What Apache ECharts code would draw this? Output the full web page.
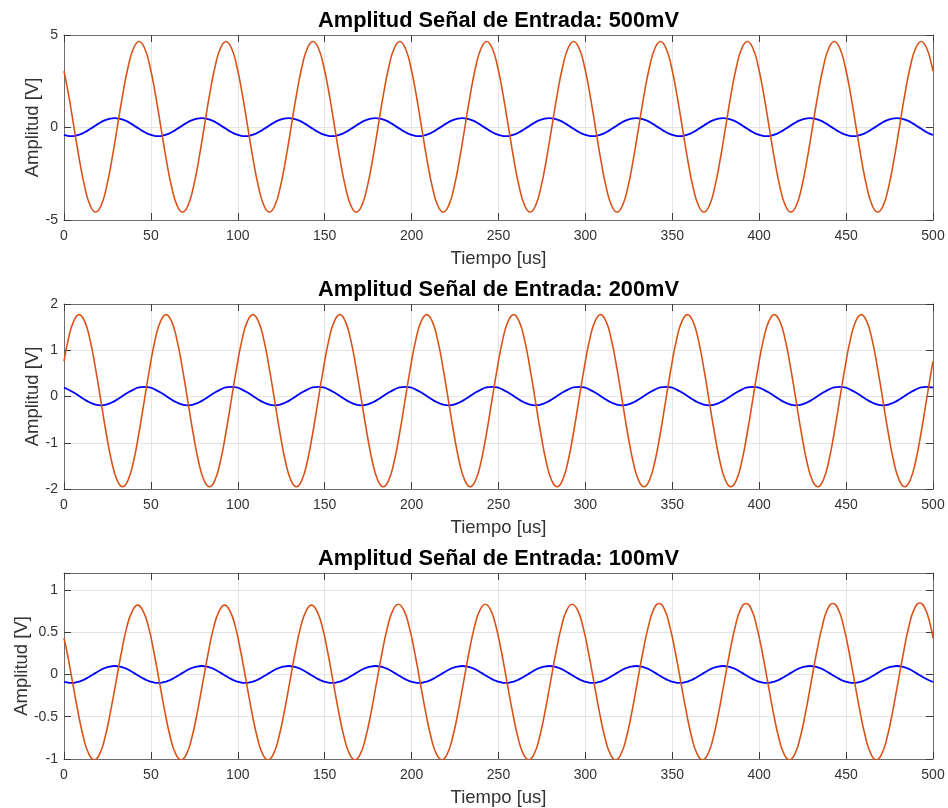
<!DOCTYPE html>
<html>
<head>
<meta charset="utf-8">
<title>Amplitud Señal de Entrada</title>
<script src="https://cdn.jsdelivr.net/npm/echarts@6/dist/echarts.min.js"></script>
<style>
  html, body { margin: 0; padding: 0; background: #ffffff; }
  #chart { width: 948px; height: 808px; }
</style>
</head>
<body>
<div id="chart"></div>
<script>
// Panel titles and axis texts
const panelTitles = [
  'Amplitud Señal de Entrada: 500mV',
  'Amplitud Señal de Entrada: 200mV',
  'Amplitud Señal de Entrada: 100mV'
];
const xName = 'Tiempo [us]';
const yName = 'Amplitud [V]';

// Axis ranges per panel: [min, max, interval]
const xRange = [0, 500, 50];
const yRanges = [
  [-5, 5, 5],
  [-2, 2, 1],
  [-1, 1.2, 0.5]
];

// Sample times [us] and measured voltages [V]

// 500 mV panel, output (orange)
const tOut500 = [0,
  2.575, 5.7, 8.825, 11.95, 15.075, 18.2, 21.325, 24.45, 27.575, 30.7, 33.825, 36.95, 40.075, 43.2, 46.325, 49.45,
  52.575, 55.7, 58.825, 61.95, 65.075, 68.2, 71.325, 74.45, 77.575, 80.7, 83.825, 86.95, 90.075, 93.2, 96.325, 99.45,
  102.575, 105.7, 108.825, 111.95, 115.075, 118.2, 121.325, 124.45, 127.575, 130.7, 133.825, 136.95, 140.075, 143.2, 146.325, 149.45,
  152.575, 155.7, 158.825, 161.95, 165.075, 168.2, 171.325, 174.45, 177.575, 180.7, 183.825, 186.95, 190.075, 193.2, 196.325, 199.45,
  202.575, 205.7, 208.825, 211.95, 215.075, 218.2, 221.325, 224.45, 227.575, 230.7, 233.825, 236.95, 240.075, 243.2, 246.325, 249.45,
  252.575, 255.7, 258.825, 261.95, 265.075, 268.2, 271.325, 274.45, 277.575, 280.7, 283.825, 286.95, 290.075, 293.2, 296.325, 299.45,
  302.575, 305.7, 308.825, 311.95, 315.075, 318.2, 321.325, 324.45, 327.575, 330.7, 333.825, 336.95, 340.075, 343.2, 346.325, 349.45,
  352.575, 355.7, 358.825, 361.95, 365.075, 368.2, 371.325, 374.45, 377.575, 380.7, 383.825, 386.95, 390.075, 393.2, 396.325, 399.45,
  402.575, 405.7, 408.825, 411.95, 415.075, 418.2, 421.325, 424.45, 427.575, 430.7, 433.825, 436.95, 440.075, 443.2, 446.325, 449.45,
  452.575, 455.7, 458.825, 461.95, 465.075, 468.2, 471.325, 474.45, 477.575, 480.7, 483.825, 486.95, 490.075, 493.2, 496.325, 499.45,
  500];
const vOut500 = [3.05,
  1.8, 0.04, -1.72, -3.22, -4.22, -4.57, -4.22, -3.22, -1.72, 0.04, 1.8, 3.3, 4.3, 4.65, 4.3, 3.3,
  1.8, 0.04, -1.72, -3.22, -4.22, -4.57, -4.22, -3.22, -1.72, 0.04, 1.8, 3.3, 4.3, 4.65, 4.3, 3.3,
  1.8, 0.04, -1.72, -3.22, -4.22, -4.57, -4.22, -3.22, -1.72, 0.04, 1.8, 3.3, 4.3, 4.65, 4.3, 3.3,
  1.8, 0.04, -1.72, -3.22, -4.22, -4.57, -4.22, -3.22, -1.72, 0.04, 1.8, 3.3, 4.3, 4.65, 4.3, 3.3,
  1.8, 0.04, -1.72, -3.22, -4.22, -4.57, -4.22, -3.22, -1.72, 0.04, 1.8, 3.3, 4.3, 4.65, 4.3, 3.3,
  1.8, 0.04, -1.72, -3.22, -4.22, -4.57, -4.22, -3.22, -1.72, 0.04, 1.8, 3.3, 4.3, 4.65, 4.3, 3.3,
  1.8, 0.04, -1.72, -3.22, -4.22, -4.57, -4.22, -3.22, -1.72, 0.04, 1.8, 3.3, 4.3, 4.65, 4.3, 3.3,
  1.8, 0.04, -1.72, -3.22, -4.22, -4.57, -4.22, -3.22, -1.72, 0.04, 1.8, 3.3, 4.3, 4.65, 4.3, 3.3,
  1.8, 0.04, -1.72, -3.22, -4.22, -4.57, -4.22, -3.22, -1.72, 0.04, 1.8, 3.3, 4.3, 4.65, 4.3, 3.3,
  1.8, 0.04, -1.72, -3.22, -4.22, -4.57, -4.22, -3.22, -1.72, 0.04, 1.8, 3.3, 4.3, 4.65, 4.3, 3.3,
  3.05];

// Input (blue) sample times, shared by the 500 mV and 100 mV panels
const tIn = [0,
  1.075, 4.2, 7.325, 10.45, 13.575, 16.7, 19.825, 22.95, 26.075, 29.2, 32.325, 35.45, 38.575, 41.7, 44.825, 47.95,
  51.075, 54.2, 57.325, 60.45, 63.575, 66.7, 69.825, 72.95, 76.075, 79.2, 82.325, 85.45, 88.575, 91.7, 94.825, 97.95,
  101.075, 104.2, 107.325, 110.45, 113.575, 116.7, 119.825, 122.95, 126.075, 129.2, 132.325, 135.45, 138.575, 141.7, 144.825, 147.95,
  151.075, 154.2, 157.325, 160.45, 163.575, 166.7, 169.825, 172.95, 176.075, 179.2, 182.325, 185.45, 188.575, 191.7, 194.825, 197.95,
  201.075, 204.2, 207.325, 210.45, 213.575, 216.7, 219.825, 222.95, 226.075, 229.2, 232.325, 235.45, 238.575, 241.7, 244.825, 247.95,
  251.075, 254.2, 257.325, 260.45, 263.575, 266.7, 269.825, 272.95, 276.075, 279.2, 282.325, 285.45, 288.575, 291.7, 294.825, 297.95,
  301.075, 304.2, 307.325, 310.45, 313.575, 316.7, 319.825, 322.95, 326.075, 329.2, 332.325, 335.45, 338.575, 341.7, 344.825, 347.95,
  351.075, 354.2, 357.325, 360.45, 363.575, 366.7, 369.825, 372.95, 376.075, 379.2, 382.325, 385.45, 388.575, 391.7, 394.825, 397.95,
  401.075, 404.2, 407.325, 410.45, 413.575, 416.7, 419.825, 422.95, 426.075, 429.2, 432.325, 435.45, 438.575, 441.7, 444.825, 447.95,
  451.075, 454.2, 457.325, 460.45, 463.575, 466.7, 469.825, 472.95, 476.075, 479.2, 482.325, 485.45, 488.575, 491.7, 494.825, 497.95,
  500];
const vIn500 = [-0.4,
  -0.43, -0.47, -0.43, -0.33, -0.17, 0.02, 0.21, 0.37, 0.47, 0.51, 0.47, 0.37, 0.21, 0.02, -0.17, -0.33,
  -0.43, -0.47, -0.43, -0.33, -0.17, 0.02, 0.21, 0.37, 0.47, 0.51, 0.47, 0.37, 0.21, 0.02, -0.17, -0.33,
  -0.43, -0.47, -0.43, -0.33, -0.17, 0.02, 0.21, 0.37, 0.47, 0.51, 0.47, 0.37, 0.21, 0.02, -0.17, -0.33,
  -0.43, -0.47, -0.43, -0.33, -0.17, 0.02, 0.21, 0.37, 0.47, 0.51, 0.47, 0.37, 0.21, 0.02, -0.17, -0.33,
  -0.43, -0.47, -0.43, -0.33, -0.17, 0.02, 0.21, 0.37, 0.47, 0.51, 0.47, 0.37, 0.21, 0.02, -0.17, -0.33,
  -0.43, -0.47, -0.43, -0.33, -0.17, 0.02, 0.21, 0.37, 0.47, 0.51, 0.47, 0.37, 0.21, 0.02, -0.17, -0.33,
  -0.43, -0.47, -0.43, -0.33, -0.17, 0.02, 0.21, 0.37, 0.47, 0.51, 0.47, 0.37, 0.21, 0.02, -0.17, -0.33,
  -0.43, -0.47, -0.43, -0.33, -0.17, 0.02, 0.21, 0.37, 0.47, 0.51, 0.47, 0.37, 0.21, 0.02, -0.17, -0.33,
  -0.43, -0.47, -0.43, -0.33, -0.17, 0.02, 0.21, 0.37, 0.47, 0.51, 0.47, 0.37, 0.21, 0.02, -0.17, -0.33,
  -0.43, -0.47, -0.43, -0.33, -0.17, 0.02, 0.21, 0.37, 0.47, 0.51, 0.47, 0.37, 0.21, 0.02, -0.17, -0.33,
  -0.4];

// 200 mV panel, sample times shared by both traces
const tMid = [0,
  2.45, 5.575, 8.7, 11.825, 14.95, 18.075, 21.2, 24.325, 27.45, 30.575, 33.7, 36.825, 39.95, 43.075, 46.2, 49.325,
  52.45, 55.575, 58.7, 61.825, 64.95, 68.075, 71.2, 74.325, 77.45, 80.575, 83.7, 86.825, 89.95, 93.075, 96.2, 99.325,
  102.45, 105.575, 108.7, 111.825, 114.95, 118.075, 121.2, 124.325, 127.45, 130.575, 133.7, 136.825, 139.95, 143.075, 146.2, 149.325,
  152.45, 155.575, 158.7, 161.825, 164.95, 168.075, 171.2, 174.325, 177.45, 180.575, 183.7, 186.825, 189.95, 193.075, 196.2, 199.325,
  202.45, 205.575, 208.7, 211.825, 214.95, 218.075, 221.2, 224.325, 227.45, 230.575, 233.7, 236.825, 239.95, 243.075, 246.2, 249.325,
  252.45, 255.575, 258.7, 261.825, 264.95, 268.075, 271.2, 274.325, 277.45, 280.575, 283.7, 286.825, 289.95, 293.075, 296.2, 299.325,
  302.45, 305.575, 308.7, 311.825, 314.95, 318.075, 321.2, 324.325, 327.45, 330.575, 333.7, 336.825, 339.95, 343.075, 346.2, 349.325,
  352.45, 355.575, 358.7, 361.825, 364.95, 368.075, 371.2, 374.325, 377.45, 380.575, 383.7, 386.825, 389.95, 393.075, 396.2, 399.325,
  402.45, 405.575, 408.7, 411.825, 414.95, 418.075, 421.2, 424.325, 427.45, 430.575, 433.7, 436.825, 439.95, 443.075, 446.2, 449.325,
  452.45, 455.575, 458.7, 461.825, 464.95, 468.075, 471.2, 474.325, 477.45, 480.575, 483.7, 486.825, 489.95, 493.075, 496.2, 499.325,
  500];
const vOut200 = [0.76,
  1.23, 1.63, 1.77, 1.63, 1.23, 0.62, -0.09, -0.8, -1.41, -1.81, -1.95, -1.81, -1.41, -0.8, -0.09, 0.62,
  1.23, 1.63, 1.77, 1.63, 1.23, 0.62, -0.09, -0.8, -1.41, -1.81, -1.95, -1.81, -1.41, -0.8, -0.09, 0.62,
  1.23, 1.63, 1.77, 1.63, 1.23, 0.62, -0.09, -0.8, -1.41, -1.81, -1.95, -1.81, -1.41, -0.8, -0.09, 0.62,
  1.23, 1.63, 1.77, 1.63, 1.23, 0.62, -0.09, -0.8, -1.41, -1.81, -1.95, -1.81, -1.41, -0.8, -0.09, 0.62,
  1.23, 1.63, 1.77, 1.63, 1.23, 0.62, -0.09, -0.8, -1.41, -1.81, -1.95, -1.81, -1.41, -0.8, -0.09, 0.62,
  1.23, 1.63, 1.77, 1.63, 1.23, 0.62, -0.09, -0.8, -1.41, -1.81, -1.95, -1.81, -1.41, -0.8, -0.09, 0.62,
  1.23, 1.63, 1.77, 1.63, 1.23, 0.62, -0.09, -0.8, -1.41, -1.81, -1.95, -1.81, -1.41, -0.8, -0.09, 0.62,
  1.23, 1.63, 1.77, 1.63, 1.23, 0.62, -0.09, -0.8, -1.41, -1.81, -1.95, -1.81, -1.41, -0.8, -0.09, 0.62,
  1.23, 1.63, 1.77, 1.63, 1.23, 0.62, -0.09, -0.8, -1.41, -1.81, -1.95, -1.81, -1.41, -0.8, -0.09, 0.62,
  1.23, 1.63, 1.77, 1.63, 1.23, 0.62, -0.09, -0.8, -1.41, -1.81, -1.95, -1.81, -1.41, -0.8, -0.09, 0.62,
  0.76];
const vIn200 = [0.19,
  0.15, 0.087, 0.01, -0.067, -0.13, -0.175, -0.19, -0.175, -0.13, -0.067, 0.01, 0.087, 0.15, 0.195, 0.21, 0.195,
  0.15, 0.087, 0.01, -0.067, -0.13, -0.175, -0.19, -0.175, -0.13, -0.067, 0.01, 0.087, 0.15, 0.195, 0.21, 0.195,
  0.15, 0.087, 0.01, -0.067, -0.13, -0.175, -0.19, -0.175, -0.13, -0.067, 0.01, 0.087, 0.15, 0.195, 0.21, 0.195,
  0.15, 0.087, 0.01, -0.067, -0.13, -0.175, -0.19, -0.175, -0.13, -0.067, 0.01, 0.087, 0.15, 0.195, 0.21, 0.195,
  0.15, 0.087, 0.01, -0.067, -0.13, -0.175, -0.19, -0.175, -0.13, -0.067, 0.01, 0.087, 0.15, 0.195, 0.21, 0.195,
  0.15, 0.087, 0.01, -0.067, -0.13, -0.175, -0.19, -0.175, -0.13, -0.067, 0.01, 0.087, 0.15, 0.195, 0.21, 0.195,
  0.15, 0.087, 0.01, -0.067, -0.13, -0.175, -0.19, -0.175, -0.13, -0.067, 0.01, 0.087, 0.15, 0.195, 0.21, 0.195,
  0.15, 0.087, 0.01, -0.067, -0.13, -0.175, -0.19, -0.175, -0.13, -0.067, 0.01, 0.087, 0.15, 0.195, 0.21, 0.195,
  0.15, 0.087, 0.01, -0.067, -0.13, -0.175, -0.19, -0.175, -0.13, -0.067, 0.01, 0.087, 0.15, 0.195, 0.21, 0.195,
  0.15, 0.087, 0.01, -0.067, -0.13, -0.175, -0.19, -0.175, -0.13, -0.067, 0.01, 0.087, 0.15, 0.195, 0.21, 0.195,
  0.19];

// 100 mV panel, output (orange)
const tOut100 = [0,
  1.775, 4.9, 8.025, 11.15, 14.275, 17.4, 20.525, 23.65, 26.775, 29.9, 33.025, 36.15, 39.275, 42.4, 45.525, 48.65,
  51.775, 54.9, 58.025, 61.15, 64.275, 67.4, 70.525, 73.65, 76.775, 79.9, 83.025, 86.15, 89.275, 92.4, 95.525, 98.65,
  101.775, 104.9, 108.025, 111.15, 114.275, 117.4, 120.525, 123.65, 126.775, 129.9, 133.025, 136.15, 139.275, 142.4, 145.525, 148.65,
  151.775, 154.9, 158.025, 161.15, 164.275, 167.4, 170.525, 173.65, 176.775, 179.9, 183.025, 186.15, 189.275, 192.4, 195.525, 198.65,
  201.775, 204.9, 208.025, 211.15, 214.275, 217.4, 220.525, 223.65, 226.775, 229.9, 233.025, 236.15, 239.275, 242.4, 245.525, 248.65,
  251.775, 254.9, 258.025, 261.15, 264.275, 267.4, 270.525, 273.65, 276.775, 279.9, 283.025, 286.15, 289.275, 292.4, 295.525, 298.65,
  301.775, 304.9, 308.025, 311.15, 314.275, 317.4, 320.525, 323.65, 326.775, 329.9, 333.025, 336.15, 339.275, 342.4, 345.525, 348.65,
  351.775, 354.9, 358.025, 361.15, 364.275, 367.4, 370.525, 373.65, 376.775, 379.9, 383.025, 386.15, 389.275, 392.4, 395.525, 398.65,
  401.775, 404.9, 408.025, 411.15, 414.275, 417.4, 420.525, 423.65, 426.775, 429.9, 433.025, 436.15, 439.275, 442.4, 445.525, 448.65,
  451.775, 454.9, 458.025, 461.15, 464.275, 467.4, 470.525, 473.65, 476.775, 479.9, 483.025, 486.15, 489.275, 492.4, 495.525, 498.65,
  500];
const vOut100 = [0.43,
  0.26, -0.09, -0.44, -0.74, -0.94, -1.01, -0.94, -0.74, -0.44, -0.09, 0.26, 0.56, 0.75, 0.82, 0.75, 0.56,
  0.26, -0.09, -0.44, -0.74, -0.94, -1.01, -0.94, -0.74, -0.44, -0.09, 0.26, 0.56, 0.75, 0.82, 0.75, 0.56,
  0.26, -0.09, -0.44, -0.74, -0.94, -1.01, -0.94, -0.74, -0.44, -0.09, 0.26, 0.56, 0.75, 0.82, 0.75, 0.56,
  0.26, -0.09, -0.44, -0.74, -0.94, -1.01, -0.94, -0.74, -0.44, -0.09, 0.26, 0.56, 0.76, 0.83, 0.76, 0.56,
  0.26, -0.09, -0.44, -0.74, -0.94, -1.01, -0.94, -0.74, -0.44, -0.09, 0.26, 0.56, 0.76, 0.83, 0.76, 0.56,
  0.26, -0.09, -0.44, -0.74, -0.94, -1.01, -0.94, -0.74, -0.44, -0.09, 0.26, 0.56, 0.76, 0.83, 0.76, 0.56,
  0.26, -0.09, -0.44, -0.74, -0.94, -1.01, -0.94, -0.74, -0.44, -0.09, 0.26, 0.56, 0.77, 0.84, 0.77, 0.56,
  0.26, -0.09, -0.44, -0.74, -0.94, -1.01, -0.94, -0.74, -0.44, -0.09, 0.26, 0.56, 0.77, 0.84, 0.77, 0.56,
  0.26, -0.09, -0.44, -0.74, -0.94, -1.01, -0.94, -0.74, -0.44, -0.09, 0.26, 0.56, 0.77, 0.84, 0.77, 0.56,
  0.26, -0.09, -0.44, -0.74, -0.94, -1.01, -0.94, -0.74, -0.44, -0.09, 0.26, 0.57, 0.775, 0.845, 0.775, 0.57,
  0.43];
// 100 mV panel, input (blue), on the tIn time base
const vIn100 = [-0.088,
  -0.092, -0.1, -0.092, -0.071, -0.038, 0, 0.038, 0.071, 0.092, 0.1, 0.092, 0.071, 0.038, 0, -0.038, -0.071,
  -0.092, -0.1, -0.092, -0.071, -0.038, 0, 0.038, 0.071, 0.092, 0.1, 0.092, 0.071, 0.038, 0, -0.038, -0.071,
  -0.092, -0.1, -0.092, -0.071, -0.038, 0, 0.038, 0.071, 0.092, 0.1, 0.092, 0.071, 0.038, 0, -0.038, -0.071,
  -0.092, -0.1, -0.092, -0.071, -0.038, 0, 0.038, 0.071, 0.092, 0.1, 0.092, 0.071, 0.038, 0, -0.038, -0.071,
  -0.092, -0.1, -0.092, -0.071, -0.038, 0, 0.038, 0.071, 0.092, 0.1, 0.092, 0.071, 0.038, 0, -0.038, -0.071,
  -0.092, -0.1, -0.092, -0.071, -0.038, 0, 0.038, 0.071, 0.092, 0.1, 0.092, 0.071, 0.038, 0, -0.038, -0.071,
  -0.092, -0.1, -0.092, -0.071, -0.038, 0, 0.038, 0.071, 0.092, 0.1, 0.092, 0.071, 0.038, 0, -0.038, -0.071,
  -0.092, -0.1, -0.092, -0.071, -0.038, 0, 0.038, 0.071, 0.092, 0.1, 0.092, 0.071, 0.038, 0, -0.038, -0.071,
  -0.092, -0.1, -0.092, -0.071, -0.038, 0, 0.038, 0.071, 0.092, 0.1, 0.092, 0.071, 0.038, 0, -0.038, -0.071,
  -0.092, -0.1, -0.092, -0.071, -0.038, 0, 0.038, 0.071, 0.092, 0.1, 0.092, 0.071, 0.038, 0, -0.038, -0.071,
  -0.088];

// ---------------------------------------------------------------
const FONT = '"Liberation Sans", Arial, Helvetica, sans-serif';
const BOX = '#6e6e6e';
const TICK = '#3c3c3c';
const GRIDLINE = '#e4e4e4';
const TEXT = '#333333';
const BLUE = '#0000ff';
const ORANGE = '#d95319';

const zip = (t, v) => t.map((x, i) => [x, v[i]]);

// y-label offset from the axis line; the 100 mV panel has wider tick labels
const yNameGaps = [22, 22, 33];

const panels = [
  { top: 35, height: 185, inV: zip(tIn, vIn500), outV: zip(tOut500, vOut500) },
  { top: 304, height: 185, inV: zip(tMid, vIn200), outV: zip(tMid, vOut200) },
  { top: 573, height: 186, inV: zip(tIn, vIn100), outV: zip(tOut100, vOut100) }
];

const grid = [], xAxis = [], yAxis = [], series = [], graphic = [];
const plotLeft = 64, plotRight = 15;
const plotCenterX = plotLeft + (948 - plotLeft - plotRight) / 2;

panels.forEach((p, i) => {
  grid.push({
    left: plotLeft, right: plotRight, top: p.top, height: p.height,
    containLabel: false, outerBoundsMode: 'none'
  });

  const [ymin, ymax, yint] = yRanges[i];

  // bottom x axis with labels and name
  xAxis.push({
    gridIndex: i, type: 'value', position: 'bottom',
    min: xRange[0], max: xRange[1], interval: xRange[2],
    name: xName, nameLocation: 'middle', nameGap: 29, nameMoveOverlap: false,
    nameTextStyle: { fontFamily: FONT, fontSize: 18.5, color: TEXT },
    axisLine: { show: true, onZero: false, lineStyle: { color: BOX, width: 1 } },
    axisTick: { show: true, inside: true, length: 7, lineStyle: { color: TICK, width: 1 } },
    axisLabel: { fontFamily: FONT, fontSize: 14, color: TEXT, margin: 9 },
    splitLine: { show: true, lineStyle: { color: GRIDLINE, width: 1 } }
  });
  // top x axis: box edge and mirrored ticks
  xAxis.push({
    gridIndex: i, type: 'value', position: 'top',
    min: xRange[0], max: xRange[1], interval: xRange[2],
    axisLine: { show: true, onZero: false, lineStyle: { color: BOX, width: 1 } },
    axisTick: { show: true, inside: true, length: 7, lineStyle: { color: TICK, width: 1 } },
    axisLabel: { show: false },
    splitLine: { show: false }
  });

  // left y axis with labels and name
  yAxis.push({
    gridIndex: i, type: 'value', position: 'left',
    min: ymin, max: ymax, interval: yint,
    name: yName, nameLocation: 'middle', nameGap: yNameGaps[i], nameMoveOverlap: false,
    nameTextStyle: { fontFamily: FONT, fontSize: 18.5, color: TEXT },
    axisLine: { show: true, onZero: false, lineStyle: { color: BOX, width: 1 } },
    axisTick: { show: true, inside: true, length: 7, lineStyle: { color: TICK, width: 1 } },
    axisLabel: {
      fontFamily: FONT, fontSize: 14, color: TEXT, margin: 6,
      formatter: v => (v > ymax - 1e-9 && (ymax - ymin) % yint > 1e-9 ? '' : String(v))
    },
    splitLine: { show: true, lineStyle: { color: GRIDLINE, width: 1 } }
  });
  // right y axis: box edge and mirrored ticks
  yAxis.push({
    gridIndex: i, type: 'value', position: 'right',
    min: ymin, max: ymax, interval: yint,
    axisLine: { show: true, onZero: false, lineStyle: { color: BOX, width: 1 } },
    axisTick: { show: true, inside: true, length: 7, lineStyle: { color: TICK, width: 1 } },
    axisLabel: { show: false },
    splitLine: { show: false }
  });

  series.push({
    type: 'line', xAxisIndex: 2 * i, yAxisIndex: 2 * i,
    data: p.inV, smooth: true, showSymbol: false, clip: true,
    lineStyle: { color: BLUE, width: 1.8 }, itemStyle: { color: BLUE }, z: 3
  });
  series.push({
    type: 'line', xAxisIndex: 2 * i, yAxisIndex: 2 * i,
    data: p.outV, smooth: true, showSymbol: false, clip: true,
    lineStyle: { color: ORANGE, width: 1.6 }, itemStyle: { color: ORANGE }, z: 4
  });

  graphic.push({
    type: 'text', x: plotCenterX, y: p.top - 14.5,
    style: {
      text: panelTitles[i], align: 'center', verticalAlign: 'middle',
      fontFamily: FONT, fontSize: 21.8, fontWeight: 'bold', fill: '#000000'
    }
  });
});

const chart = echarts.init(document.getElementById('chart'), null, { renderer: 'canvas' });
chart.setOption({
  animation: false,
  backgroundColor: '#ffffff',
  grid, xAxis, yAxis, series, graphic
});
</script>
</body>
</html>
